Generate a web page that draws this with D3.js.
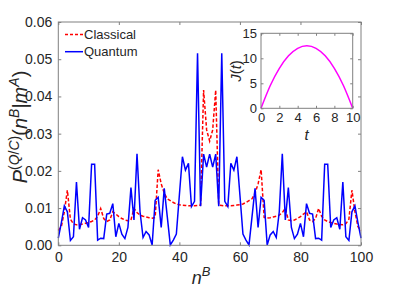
<!DOCTYPE html>
<html><head><meta charset="utf-8">
<script src="https://cdn.jsdelivr.net/npm/d3@7"></script>
<style>body{margin:0;background:#fff}svg{display:block}text{font-family:"Liberation Sans",Arial,sans-serif;fill:#262626}</style>
</head><body>
<script>
// n^B = 0..100
const quantumLeft = [0.0019,0.0060,0.0106,0.0090,0.0013,0.0023,0.0170,0.0043,0.0074,0.0068,
0.0048,0.0218,0.0218,0.0014,0.0019,0.0018,0.0084,0.0086,0.0112,0.0023,
0.0059,0.0030,0.0018,0.0048,0.0155,0.0068,0.0246,0.0090,0.0021,0.0037,
0.0028,0.0001,0.0121,0.0129,0.0048,0.0153,0.0077,0.0001,0.0014,0.0030,
0.0135,0.0238,0.0202,0.0220,0.0104,0.0118,0.0516,0.0105,0.0245,0.0210,0.0245];
const classicalLeft = [0.0040,0.0050,0.0090,0.0148,0.0070,0.0058,0.0055,0.0056,0.0057,0.0059,
0.0061,0.0064,0.0068,0.0078,0.0099,0.0072,0.0064,0.0068,0.0090,0.0084,
0.0077,0.0072,0.0068,0.0066,0.0068,0.0099,0.0088,0.0081,0.0078,0.0076,
0.0074,0.0073,0.0075,0.0203,0.0165,0.0140,0.0125,0.0120,0.0115,0.0111,
0.0109,0.0108,0.0107,0.0106,0.0106,0.0106,0.0107,0.0108,0.0417,0.0310,0.0280];
// values read from the right half (mirror of the left as seen in the figure)
const quantum = quantumLeft.concat(quantumLeft.slice(0,50).reverse());
const classical = classicalLeft.concat(classicalLeft.slice(0,50).reverse());
const xTicks = [0,20,40,60,80,100];
const yTicks = [0,0.01,0.02,0.03,0.04,0.05,0.06];
// inset J(t)
const tVals = [0,1,2,3,4,5,6,7,8,9,10];
const jVals = [0,4.5,8,10.5,12,12.5,12,10.5,8,4.5,0];
const insetXTicks = [0,2,4,6,8,10];
const insetYTicks = [0,5,10,15];

const W=399,H=291;
const svg=d3.select("body").append("svg").attr("width",W).attr("height",H);
const m={l:58.3,r:361,t:22,b:245.3};
const x=d3.scaleLinear().domain([0,100]).range([m.l,m.r]);
const y=d3.scaleLinear().domain([0,0.06]).range([m.b,m.t]);
const axisCol="#808080";

function styleAxis(g){g.select(".domain").remove();g.selectAll(".tick line").attr("stroke",axisCol);}
// main axes
svg.append("g").attr("transform",`translate(0,${m.b})`).call(d3.axisBottom(x).tickValues(xTicks).tickSize(-3).tickPadding(7).tickFormat(d3.format("d")))
 .call(styleAxis).call(g=>g.selectAll("text").attr("font-size",14).attr("fill","#262626"));
svg.append("g").attr("transform",`translate(0,${m.t})`).call(d3.axisTop(x).tickValues(xTicks).tickSize(-3).tickFormat(""))
 .call(styleAxis);
svg.append("g").attr("transform",`translate(${m.l},0)`).call(d3.axisLeft(y).tickValues(yTicks).tickSize(-3).tickPadding(6).tickFormat(d3.format(".2f")))
 .call(styleAxis).call(g=>g.selectAll("text").attr("font-size",14).attr("fill","#262626"));
svg.append("g").attr("transform",`translate(${m.r},0)`).call(d3.axisRight(y).tickValues(yTicks).tickSize(-3).tickFormat(""))
 .call(styleAxis);

const line=d3.line().x((d,i)=>x(i)).y(d=>y(d));
svg.append("path").datum(classical).attr("d",line).attr("fill","none").attr("stroke","#ff0000").attr("stroke-width",1.5).attr("stroke-dasharray","3.5,2");
svg.append("path").datum(quantum).attr("d",line).attr("fill","none").attr("stroke","#0000ff").attr("stroke-width",1.5);
svg.append("rect").attr("x",m.l).attr("y",m.t).attr("width",m.r-m.l).attr("height",m.b-m.t).attr("fill","none").attr("stroke",axisCol).attr("stroke-width",1);

// legend
const leg=[{t:"Classical",c:"#ff0000",d:"3,2",y:34.5},{t:"Quantum",c:"#0000ff",d:null,y:51.7}];
leg.forEach(l=>{
 svg.append("line").attr("x1",65).attr("x2",83).attr("y1",l.y).attr("y2",l.y).attr("stroke",l.c).attr("stroke-width",1.5).attr("stroke-dasharray",l.d);
 svg.append("text").attr("x",84).attr("y",l.y+4.5).attr("font-size",13).text(l.t);
});

// axis labels
const serif='"Liberation Serif","DejaVu Serif",serif';
const xl=svg.append("text").attr("x",201).attr("y",284).attr("text-anchor","middle").attr("font-family",serif).attr("font-size",18);
xl.append("tspan").attr("font-style","italic").text("n");
xl.append("tspan").attr("font-style","italic").attr("font-size",13).attr("dy",-8).text("B");

const yl=svg.append("text").attr("transform","translate(27,127) rotate(-90)").attr("text-anchor","middle").attr("font-family",serif).attr("font-size",20);
const sup=14;
yl.append("tspan").attr("font-style","italic").text("P");
yl.append("tspan").attr("font-size",sup).attr("dy",-8).text("(");
yl.append("tspan").attr("font-size",sup).attr("font-style","italic").text("Q");
yl.append("tspan").attr("font-size",sup).text("/");
yl.append("tspan").attr("font-size",sup).attr("font-style","italic").text("C");
yl.append("tspan").attr("font-size",sup).text(")");
yl.append("tspan").attr("dy",8).text("(");
yl.append("tspan").attr("font-style","italic").text("n");
yl.append("tspan").attr("font-size",sup).attr("font-style","italic").attr("dy",-8).text("B");
yl.append("tspan").attr("dy",8).text("|");
yl.append("tspan").attr("font-style","italic").text("m");
yl.append("tspan").attr("font-size",sup).attr("font-style","italic").attr("dy",-8).text("A");
yl.append("tspan").attr("dy",8).text(")");

// inset
const im={l:261,r:352.7,t:33.3,b:108.3};
svg.append("rect").attr("x",im.l).attr("y",im.t).attr("width",im.r-im.l).attr("height",im.b-im.t).attr("fill","#fff");
const ix=d3.scaleLinear().domain([0,10]).range([im.l,im.r]);
const iy=d3.scaleLinear().domain([0,15]).range([im.b,im.t]);
svg.append("g").attr("transform",`translate(0,${im.b})`).call(d3.axisBottom(ix).tickValues(insetXTicks).tickSize(-2.5).tickPadding(4))
 .call(styleAxis).call(g=>g.selectAll("text").attr("font-size",13).attr("fill","#262626"));
svg.append("g").attr("transform",`translate(0,${im.t})`).call(d3.axisTop(ix).tickValues(insetXTicks).tickSize(-2.5).tickFormat("")).call(styleAxis);
svg.append("g").attr("transform",`translate(${im.l},0)`).call(d3.axisLeft(iy).tickValues(insetYTicks).tickSize(-2.5).tickPadding(4))
 .call(styleAxis).call(g=>g.selectAll("text").attr("font-size",13).attr("fill","#262626"));
svg.append("g").attr("transform",`translate(${im.r},0)`).call(d3.axisRight(iy).tickValues(insetYTicks).tickSize(-2.5).tickFormat("")).call(styleAxis);
svg.append("path").datum(tVals.map((t,i)=>[t,jVals[i]])).attr("d",d3.line().x(d=>ix(d[0])).y(d=>iy(d[1])).curve(d3.curveNatural))
 .attr("fill","none").attr("stroke","#ff00ff").attr("stroke-width",1.5);
svg.append("rect").attr("x",im.l).attr("y",im.t).attr("width",im.r-im.l).attr("height",im.b-im.t).attr("fill","none").attr("stroke",axisCol);
svg.append("text").attr("x",306.5).attr("y",140).attr("text-anchor","middle").attr("font-family",serif).attr("font-style","italic").attr("font-size",15).text("t");
const jl=svg.append("text").attr("transform","translate(241,71) rotate(-90)").attr("text-anchor","middle").attr("font-family",serif).attr("font-size",15);
jl.append("tspan").attr("font-style","italic").text("J");
jl.append("tspan").text("(");
jl.append("tspan").attr("font-style","italic").text("t");
jl.append("tspan").text(")");
</script>
</body></html>
